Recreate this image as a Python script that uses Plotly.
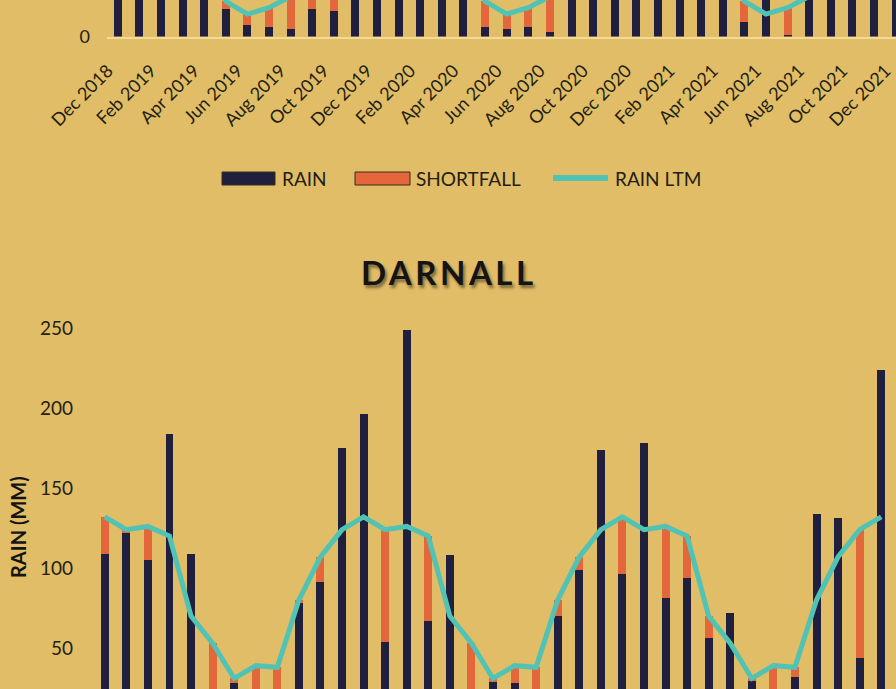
import plotly.graph_objects as go

# ---------------- data ----------------
months = [
    "Dec 2018", "Jan 2019", "Feb 2019", "Mar 2019", "Apr 2019", "May 2019", "Jun 2019",
    "Jul 2019", "Aug 2019", "Sep 2019", "Oct 2019", "Nov 2019", "Dec 2019", "Jan 2020",
    "Feb 2020", "Mar 2020", "Apr 2020", "May 2020", "Jun 2020", "Jul 2020", "Aug 2020",
    "Sep 2020", "Oct 2020", "Nov 2020", "Dec 2020", "Jan 2021", "Feb 2021", "Mar 2021",
    "Apr 2021", "May 2021", "Jun 2021", "Jul 2021", "Aug 2021", "Sep 2021", "Oct 2021",
    "Nov 2021", "Dec 2021",
]
top_tick_labels = [
    "Dec 2018", "Feb 2019", "Apr 2019", "Jun 2019", "Aug 2019", "Oct 2019", "Dec 2019",
    "Feb 2020", "Apr 2020", "Jun 2020", "Aug 2020", "Oct 2020", "Dec 2020", "Feb 2021",
    "Apr 2021", "Jun 2021", "Aug 2021", "Oct 2021", "Dec 2021",
]
series_names = ["RAIN", "SHORTFALL", "RAIN LTM"]
chart_title = "DARNALL"
y_title = "RAIN (MM)"

# upper (partly visible) station
top_rain = [95, 110, 80, 150, 70, 17, 7, 6, 5, 17, 16, 160, 180, 120, 210, 90, 95, 6, 5,
            6, 3, 65, 100, 150, 110, 160, 120, 100, 60, 9, 25, 1, 30, 120, 115, 70, 200]
top_shortfall = [30, 10, 38, 0, 0, 5, 7, 12, 20, 43, 79, 0, 0, 0, 0, 20, 0, 16, 9,
                 12, 22, 0, 0, 0, 15, 0, 0, 10, 0, 13, 0, 17, 0, 0, 0, 45, 0]
top_ltm = [125, 120, 118, 110, 60, 22, 14, 18, 25, 60, 95, 115,
           125, 120, 118, 110, 60, 22, 14, 18, 25, 60, 95, 115,
           125, 120, 118, 110, 60, 22, 14, 18, 25, 60, 95, 115, 125]
top_y_ticks = [0]

# DARNALL
darnall_rain = [109, 122, 105, 184, 109, 8, 28, 3, 6, 78, 91, 175, 196, 54, 249, 67, 108,
                10, 29, 28, 15, 70, 99, 174, 96, 178, 81, 94, 56, 72, 30, 12, 32, 134, 131,
                44, 224]
darnall_shortfall = [23, 2, 21, 0, 0, 45, 3, 36, 32, 2, 16, 0, 0, 70, 0, 53, 0,
                     43, 2, 11, 23, 10, 8, 0, 36, 0, 45, 26, 14, 0, 1, 27, 6, 0, 0,
                     80, 0]
darnall_ltm = [132, 124, 126, 120, 70, 53, 31, 39, 38, 80, 107, 124,
               132, 124, 126, 120, 70, 53, 31, 39, 38, 80, 107, 124,
               132, 124, 126, 120, 70, 53, 31, 39, 38, 80, 107, 124, 132]
darnall_y_ticks = [0, 50, 100, 150, 200, 250]

# ---------------- style ----------------
W, H = 896, 689
BG = "#E0BD66"
NAVY = "#20203E"
ORANGE = "#E3673B"
TEAL = "#50C3B5"
TXT = "#231E12"
FONT = "Lato"


def px_x(p):
    return p / W


def px_y(p):
    return 1 - p / H


fig = go.Figure()

# upper chart
fig.add_trace(go.Bar(x=months, y=top_rain, name=series_names[0], marker_color=NAVY,
                     marker_line_width=0, xaxis="x", yaxis="y", showlegend=False))
fig.add_trace(go.Bar(x=months, y=top_shortfall, name=series_names[1], marker_color=ORANGE,
                     marker_line_width=0, xaxis="x", yaxis="y", showlegend=False))
fig.add_trace(go.Scatter(x=months, y=top_ltm, name=series_names[2], mode="lines",
                         line=dict(color=TEAL, width=5), xaxis="x", yaxis="y",
                         showlegend=False))

# DARNALL chart
fig.add_trace(go.Bar(x=months, y=darnall_rain, name=series_names[0], marker_color=NAVY,
                     marker_line_width=0, xaxis="x2", yaxis="y2", showlegend=False))
fig.add_trace(go.Bar(x=months, y=darnall_shortfall, name=series_names[1], marker_color=ORANGE,
                     marker_line_width=0, xaxis="x2", yaxis="y2", showlegend=False))
fig.add_trace(go.Scatter(x=months, y=darnall_ltm, name=series_names[2], mode="lines",
                         line=dict(color=TEAL, width=5), xaxis="x2", yaxis="y2",
                         showlegend=False))

fig.update_layout(
    width=W, height=H,
    margin=dict(l=0, r=0, t=0, b=0, autoexpand=False),
    paper_bgcolor=BG, plot_bgcolor=BG,
    barmode="stack", bargap=0.63,
    font=dict(family=FONT, color=TXT, size=18),
    xaxis=dict(
        domain=[px_x(107), 1], anchor="y", type="category", automargin=False,
        categoryorder="array", categoryarray=months,
        range=[-0.5, 36.02],
        tickmode="array", tickvals=top_tick_labels, ticktext=top_tick_labels,
        tickangle=-45, tickfont=dict(size=18, color=TXT, family=FONT),
        ticklabelstandoff=15, ticklabelshift=-10,
        showline=True, linecolor="#F2DB98", linewidth=1.5,
        showgrid=False, zeroline=False, ticks="",
    ),
    yaxis=dict(
        domain=[px_y(36.5), 1], anchor="x", automargin=False,
        range=[0, 22.8], tickvals=top_y_ticks,
        tickfont=dict(size=18, color=TXT, family=FONT),
        ticklabelstandoff=16,
        showgrid=False, zeroline=False, showline=False,
    ),
    xaxis2=dict(
        domain=[px_x(94), px_x(892)], anchor="y2", type="category", automargin=False,
        categoryorder="array", categoryarray=months,
        range=[-0.5, 36.5],
        showticklabels=False, showgrid=False, zeroline=False, showline=False, ticks="",
    ),
    yaxis2=dict(
        domain=[0, px_y(310)], anchor="x2", automargin=False,
        range=[24.4, 261.25], tickvals=darnall_y_ticks,
        tickfont=dict(size=19, color=TXT, family=FONT),
        ticklabelstandoff=20,
        showgrid=False, zeroline=False, showline=False,
    ),
)

# custom legend (between the two charts)
legend_items = [
    dict(kind="rect", color=NAVY, x0=222, x1=275, tx=280),
    dict(kind="rect", color=ORANGE, x0=355, x1=410, tx=414),
    dict(kind="line", color=TEAL, x0=553, x1=608, tx=613),
]
shapes = []
annotations = []
for name, item in zip(series_names, legend_items):
    if item["kind"] == "rect":
        shapes.append(dict(type="rect", xref="paper", yref="paper",
                           x0=px_x(item["x0"]), x1=px_x(item["x1"]),
                           y0=px_y(185), y1=px_y(172),
                           fillcolor=item["color"], line=dict(color="#3a2a20", width=1)))
    else:
        shapes.append(dict(type="line", xref="paper", yref="paper",
                           x0=px_x(item["x0"]), x1=px_x(item["x1"]),
                           y0=px_y(178), y1=px_y(178),
                           line=dict(color=item["color"], width=6)))
    annotations.append(dict(text=name, xref="paper", yref="paper",
                            x=px_x(item["tx"]), y=px_y(178),
                            xanchor="left", yanchor="middle", showarrow=False,
                            font=dict(size=19, color=TXT, family=FONT)))

annotations.append(dict(text="<b><span style='letter-spacing:3.5px'>" + chart_title + "</span></b>",
                        xref="paper", yref="paper",
                        x=px_x(449), y=px_y(272), xanchor="center", yanchor="middle",
                        showarrow=False,
                        font=dict(size=33, color="#141414", family=FONT,
                                  shadow="2px 3px 3px rgba(0,0,0,0.45)")))
annotations.append(dict(text="<b>" + y_title + "</b>", xref="paper", yref="paper",
                        x=px_x(18), y=px_y(527), xanchor="center", yanchor="middle",
                        textangle=-90, showarrow=False,
                        font=dict(size=20, color="#141414", family=FONT)))

fig.update_layout(shapes=shapes, annotations=annotations)

fig.write_html("out.html", config={"displayModeBar": False},
               post_script="document.body.style.margin='0';document.body.style.overflow='hidden';")
